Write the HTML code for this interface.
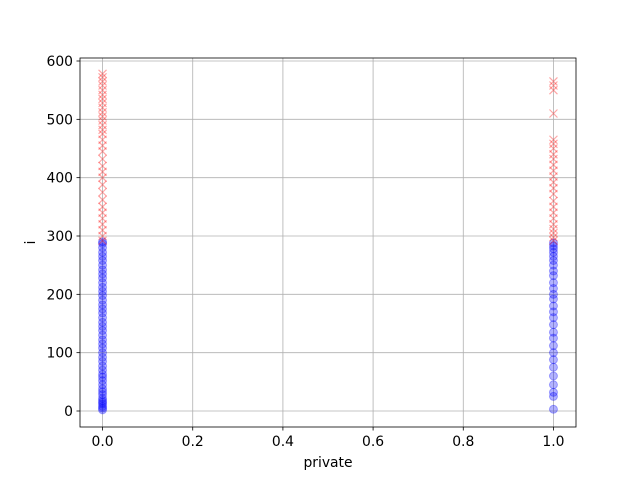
<!DOCTYPE html>
<html><head><meta charset="utf-8"><style>
body{margin:0;background:#fff;font-family:"Liberation Sans","DejaVu Sans",sans-serif}
svg text{font-family:"DejaVu Sans","Liberation Sans",sans-serif;font-size:13.9px;fill:#000}
</style></head><body>
<svg id="chart" width="640" height="480"></svg>
<script>
const xTicks=[0,0.2,0.4,0.6,0.8,1.0];
const xTickLabels=["0.0","0.2","0.4","0.6","0.8","1.0"];
const yTicks=[0,100,200,300,400,500,600];
const yTickLabels=["0","100","200","300","400","500","600"];
const blue0=[2,5,8,12,15,18,22,28,33,38,45,52,58,63,70,77,85,92,100,108,115,122,130,138,145,152,160,168,175,182,190,198,205,212,220,228,235,242,250,258,265,272,280,287,290];
const red0=[292,300,310,320,330,340,350,362,375,388,400,410,420,432,445,455,465,475,482,490,498,505,512,520,528,535,542,550,558,565,572,578];
const blue1=[3,25,32,45,60,75,88,100,112,125,135,148,160,170,180,192,200,210,220,232,240,250,258,265,272,278,283,288];
const red1=[292,298,305,312,320,330,340,350,360,372,382,392,402,412,422,432,440,450,458,465,510,550,558,565];
const svg=document.getElementById('chart');
const NS='http://www.w3.org/2000/svg';
const L=80,R=576,T=58,B=427;
const xs=v=>L+(v+0.05)/1.1*(R-L);
const ys=v=>411-v*(350/600);
function mk(t,a,p){const e=document.createElementNS(NS,t);for(const k in a)e.setAttribute(k,a[k]);(p||svg).appendChild(e);return e;}
const grid=mk('g',{});


xTicks.forEach((v,i)=>{
 mk('line',{x1:xs(v),x2:xs(v),y1:T,y2:B,stroke:'#b0b0b0','stroke-width':0.8},grid);
 mk('line',{x1:xs(v),x2:xs(v),y1:B,y2:B+3.5,stroke:'#000','stroke-width':0.8});
 const t=mk('text',{x:xs(v),y:B+19,'text-anchor':'middle'});t.textContent=xTickLabels[i];
 
 
});
yTicks.forEach((v,i)=>{
 mk('line',{x1:L,x2:R,y1:ys(v),y2:ys(v),stroke:'#b0b0b0','stroke-width':0.8},grid);
 mk('line',{x1:L-3.5,x2:L,y1:ys(v),y2:ys(v),stroke:'#000','stroke-width':0.8});
 const t=mk('text',{x:L-7,y:ys(v)+5,'text-anchor':'end'});t.textContent=yTickLabels[i];
 
 
});
function circles(arr,x,name){const g=mk('g',{});
 
 
 arr.forEach(v=>mk('circle',{cx:xs(x),cy:ys(v),r:4,fill:'rgba(0,0,255,0.3)',stroke:'rgba(0,0,255,0.3)'},g));}
function crosses(arr,x,name){const g=mk('g',{});
 
 
 arr.forEach(v=>{const cx=xs(x),cy=ys(v),d=4;
 mk('path',{d:`M${cx-d},${cy-d}L${cx+d},${cy+d}M${cx-d},${cy+d}L${cx+d},${cy-d}`,stroke:'rgba(255,0,0,0.35)','stroke-width':1.2,fill:'none'},g);});}
circles(blue0,0,'series-blue-private-0');circles(blue1,1,'series-blue-private-1');
crosses(red0,0,'series-red-private-0');crosses(red1,1,'series-red-private-1');
const fr=mk('rect',{x:L,y:T,width:R-L,height:B-T,fill:'none',stroke:'#000','stroke-width':0.8});


const xl=mk('text',{x:(L+R)/2,y:467,'text-anchor':'middle'});xl.textContent='private';


const yl=mk('text',{x:0,y:0,'text-anchor':'middle',transform:`translate(35,${(T+B)/2}) rotate(-90)`});yl.textContent='i';


</script>
</body></html>
